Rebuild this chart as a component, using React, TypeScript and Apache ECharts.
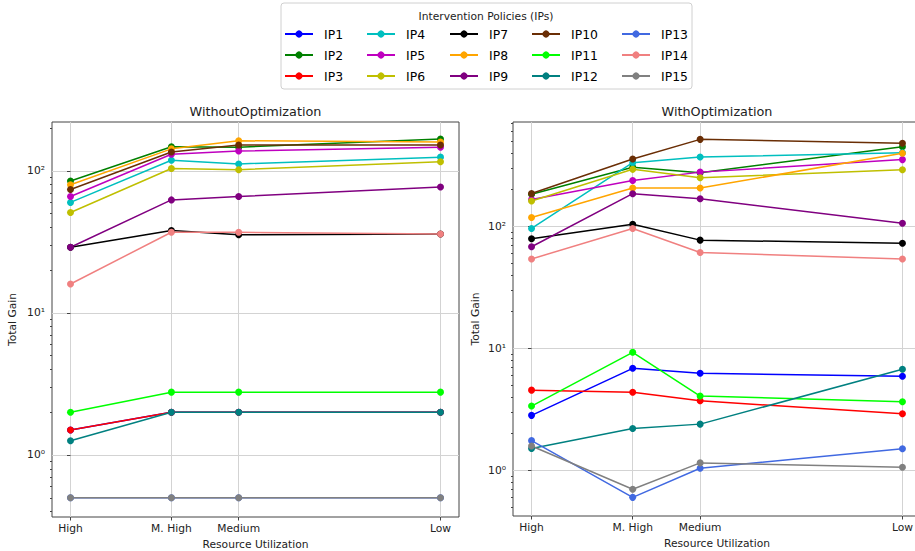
import React, { useEffect, useRef } from "react";
import * as echarts from "echarts";

// ---- Data ----
const utilizationLabels = ["High", "M. High", "Medium", "Low"];
const utilizationX = [0, 3, 5, 11];
const policyNames = [
  "IP1", "IP2", "IP3", "IP4", "IP5", "IP6", "IP7", "IP8",
  "IP9", "IP10", "IP11", "IP12", "IP13", "IP14", "IP15",
];
const policyColors = [
  "#0000ff", "#008000", "#ff0000", "#00bfbf", "#bf00bf", "#bfbf00", "#000000", "#ffa500",
  "#800080", "#6a2e05", "#00ff00", "#008080", "#4169e1", "#f08080", "#808080",
];

// Without optimization (High, M. High, Medium, Low)
const woIP1 = [1.5, 2, 2, 2];
const woIP2 = [85, 148, 147, 168];
const woIP3 = [1.5, 2, 2, 2];
const woIP4 = [60, 119, 112, 125];
const woIP5 = [66, 131, 138, 147];
const woIP6 = [51, 104, 102, 116];
const woIP7 = [29, 38, 35.5, 36];
const woIP8 = [80, 143, 163, 160];
const woIP9 = [29, 62.5, 66, 77];
const woIP10 = [74, 136, 152, 152];
const woIP11 = [2, 2.77, 2.77, 2.77];
const woIP12 = [1.26, 2, 2, 2];
const woIP13 = [0.5, 0.5, 0.5, 0.5];
const woIP14 = [16, 37, 37, 36];
const woIP15 = [0.5, 0.5, 0.5, 0.5];

// With optimization (High, M. High, Medium, Low)
const wIP1 = [2.82, 6.85, 6.25, 5.9];
const wIP2 = [183, 305, 275, 449];
const wIP3 = [4.54, 4.36, 3.71, 2.91];
const wIP4 = [96, 332, 370, 401];
const wIP5 = [166, 237, 278, 352];
const wIP6 = [161, 293, 250, 291];
const wIP7 = [79, 104, 77, 72.6];
const wIP8 = [118, 206, 206, 397];
const wIP9 = [68, 185, 168, 106];
const wIP10 = [186, 356, 516, 479];
const wIP11 = [3.36, 9.27, 4.06, 3.65];
const wIP12 = [1.51, 2.2, 2.39, 6.73];
const wIP13 = [1.75, 0.6, 1.04, 1.5];
const wIP14 = [54, 96, 61, 54];
const wIP15 = [1.58, 0.7, 1.15, 1.06];

const withoutOpt = [woIP1, woIP2, woIP3, woIP4, woIP5, woIP6, woIP7, woIP8, woIP9, woIP10, woIP11, woIP12, woIP13, woIP14, woIP15];
const withOpt = [wIP1, wIP2, wIP3, wIP4, wIP5, wIP6, wIP7, wIP8, wIP9, wIP10, wIP11, wIP12, wIP13, wIP14, wIP15];

const majorTicks = [1, 10, 100];
const minorTicksLeft = [0.4, 0.5, 0.6, 0.7, 0.8, 0.9, 2, 3, 4, 5, 6, 7, 8, 9, 20, 30, 40, 50, 60, 70, 80, 90, 200];
const minorTicksRight = [0.5, 0.6, 0.7, 0.8, 0.9, 2, 3, 4, 5, 6, 7, 8, 9, 20, 30, 40, 50, 60, 70, 80, 90, 200, 300, 400, 500, 600, 700];

const FONT = "DejaVu Sans";
const SUP: Record<string, string> = { "0": "\u2070", "1": "\u00b9", "2": "\u00b2", "3": "\u00b3" };

function buildOption() {
  const xAxisBase = (gridIndex: number) => ({
    type: "value",
    gridIndex,
    min: -0.55,
    max: 11.55,
    name: "Resource Utilization",
    nameLocation: "middle",
    nameGap: 20,
    nameTextStyle: { fontSize: 10.7, color: "#222", fontFamily: FONT },
    axisLine: { show: false },
    axisTick: { show: true, customValues: utilizationX, length: 3.5, lineStyle: { color: "#444" } },
    axisLabel: {
      customValues: utilizationX,
      fontSize: 10.7,
      color: "#222",
      fontFamily: FONT,
      margin: 6,
      formatter: (v: number) => {
        const idx = utilizationX.indexOf(Math.round(v));
        return idx >= 0 ? utilizationLabels[idx] : "";
      },
    },
    splitLine: { show: true, lineStyle: { color: "#d3d3d3", width: 1 } },
  });

  const yMain = (gridIndex: number, min: number, max: number, nameGap: number) => ({
    type: "log",
    logBase: 10,
    gridIndex,
    position: "left",
    min,
    max,
    name: "Total Gain",
    nameLocation: "middle",
    nameGap,
    nameTextStyle: { fontSize: 10.7, color: "#222", fontFamily: FONT },
    axisLine: { show: false },
    axisTick: { show: true, customValues: majorTicks, length: 3.5, lineStyle: { color: "#444" } },
    axisLabel: {
      customValues: majorTicks,
      fontSize: 10.7,
      color: "#222",
      fontFamily: FONT,
      margin: 7,
      formatter: (v: number) => {
        const e = String(Math.round(Math.log10(v)));
        return "10" + e.split("").map((c) => SUP[c] || c).join("");
      },
    },
    splitLine: { show: true, lineStyle: { color: "#d3d3d3", width: 1 } },
  });

  const yMinor = (gridIndex: number, min: number, max: number, ticks: number[]) => ({
    type: "log",
    logBase: 10,
    gridIndex,
    position: "left",
    offset: 0,
    min,
    max,
    axisLine: { show: false },
    axisTick: { show: true, customValues: ticks, length: 2, lineStyle: { color: "#444" } },
    axisLabel: { show: false },
    splitLine: { show: false },
  });

  const mkSeries = (vals: number[][], gridIdx: number) =>
    policyNames.map((name, i) => ({
      type: "line",
      name,
      xAxisIndex: gridIdx,
      yAxisIndex: gridIdx * 2,
      data: vals[i].map((v, j) => [utilizationX[j], v]),
      color: policyColors[i],
      itemStyle: { color: policyColors[i] },
      lineStyle: { width: 1.5, color: policyColors[i] },
      symbol: "circle",
      symbolSize: 7,
      showSymbol: true,
      emphasis: { disabled: true },
    }));

  const legendLefts = [284, 366, 449, 531, 621];

  return {
    animation: false,
    textStyle: { fontFamily: FONT },
    grid: [
      { left: 52, top: 122, width: 407, height: 395, show: true, borderColor: "#444", borderWidth: 1, backgroundColor: "transparent", containLabel: false, outerBoundsMode: "none" },
      { left: 513, top: 122, width: 408, height: 394, show: true, borderColor: "#444", borderWidth: 1, backgroundColor: "transparent", containLabel: false, outerBoundsMode: "none" },
    ],
    xAxis: [xAxisBase(0), xAxisBase(1)],
    yAxis: [
      yMain(0, 0.366, 221, 34),
      yMinor(0, 0.366, 221, minorTicksLeft),
      yMain(1, 0.422, 716, 32),
      yMinor(1, 0.422, 716, minorTicksRight),
    ],
    legend: legendLefts.map((left, c) => ({
      orient: "vertical",
      left,
      top: 28,
      padding: 0,
      itemWidth: 28,
      itemHeight: 9,
      itemGap: 9,
      selectedMode: false,
      data: policyNames.slice(c * 3, c * 3 + 3),
      textStyle: { fontSize: 12.4, color: "#000", fontFamily: FONT, padding: [0, 0, 0, 6] },
    })),
    graphic: [
      {
        type: "rect",
        z: 0,
        shape: { x: 281, y: 3, width: 411, height: 86, r: 3 },
        style: { fill: "#ffffff", stroke: "#d0d0d0", lineWidth: 1 },
      },
      {
        type: "text",
        z: 1,
        x: 486,
        y: 16,
        style: { text: "Intervention Policies (IPs)", fontSize: 10.7, fill: "#222", fontFamily: FONT, textAlign: "center", textVerticalAlign: "middle" },
      },
      {
        type: "text",
        x: 255.5,
        y: 111,
        style: { text: "WithoutOptimization", fontSize: 12.8, fill: "#222", fontFamily: FONT, textAlign: "center", textVerticalAlign: "middle" },
      },
      {
        type: "text",
        x: 717,
        y: 111,
        style: { text: "WithOptimization", fontSize: 12.8, fill: "#222", fontFamily: FONT, textAlign: "center", textVerticalAlign: "middle" },
      },
    ],
    series: [...mkSeries(withoutOpt, 0), ...mkSeries(withOpt, 1)],
  };
}

export default function App() {
  const ref = useRef<HTMLDivElement>(null);
  useEffect(() => {
    if (!ref.current) return;
    const chart = echarts.init(ref.current, undefined, { renderer: "svg" });
    chart.setOption(buildOption() as any);
    return () => chart.dispose();
  }, []);
  return (
    <div
      ref={ref}
      style={{ position: "absolute", left: 0, top: 0, width: 915, height: 551, background: "#fff" }}
    />
  );
}
